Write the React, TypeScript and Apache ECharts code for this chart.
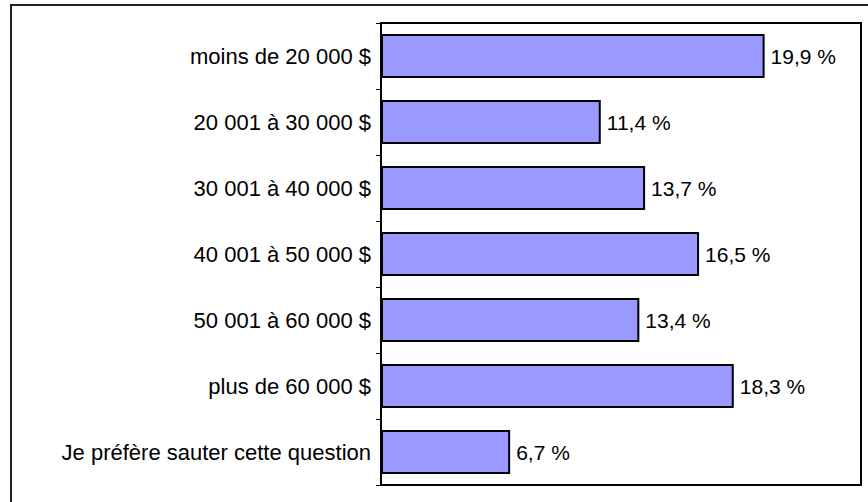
import React, { useEffect, useRef } from "react";
import * as echarts from "echarts";

const categories = [
  "moins de 20 000 $",
  "20 001 à 30 000 $",
  "30 001 à 40 000 $",
  "40 001 à 50 000 $",
  "50 001 à 60 000 $",
  "plus de 60 000 $",
  "Je préfère sauter cette question",
];
const values = [19.9, 11.4, 13.7, 16.5, 13.4, 18.3, 6.7];
const xMin = 0;
const xMax = 24.9;

export default function App() {
  const ref = useRef<HTMLDivElement>(null);
  useEffect(() => {
    if (!ref.current) return;
    const chart = echarts.init(ref.current, null, { renderer: "svg" });
    const font = "'Liberation Sans', Arial, sans-serif";
    chart.setOption({
      animation: false,
      backgroundColor: "#ffffff",
      graphic: [
        {
          type: "rect",
          shape: { x: 11, y: 5, width: 900, height: 560 },
          style: { fill: "none", stroke: "#222", lineWidth: 2 },
          silent: true,
        },
      ],
      grid: {
        left: 381,
        top: 23,
        right: 7,
        bottom: 17,
        show: true,
        borderColor: "#000",
        borderWidth: 2,
        backgroundColor: "transparent",
      },
      xAxis: {
        type: "value",
        min: xMin,
        max: xMax,
        show: false,
        splitLine: { show: false },
      },
      yAxis: {
        type: "category",
        inverse: true,
        data: categories,
        axisLine: { show: true, lineStyle: { color: "#000", width: 2 } },
        axisTick: { show: true, length: 5, alignWithLabel: false, lineStyle: { color: "#000", width: 1 } },
        axisLabel: { color: "#000", fontSize: 22, fontFamily: font, margin: 10 },
      },
      series: [
        {
          type: "bar",
          data: values,
          barCategoryGap: "33%",
          itemStyle: { color: "#9999FF", borderColor: "#000", borderWidth: 2 },
          label: {
            show: true,
            position: "right",
            distance: 6,
            color: "#000",
            fontSize: 21,
            fontFamily: font,
            formatter: (p: any) => String(p.value).replace(".", ",") + " %",
          },
        },
      ],
    });
    return () => chart.dispose();
  }, []);
  return (
    <div
      ref={ref}
      style={{ position: "fixed", left: 0, top: 0, width: 868, height: 502, background: "#fff" }}
    />
  );
}
